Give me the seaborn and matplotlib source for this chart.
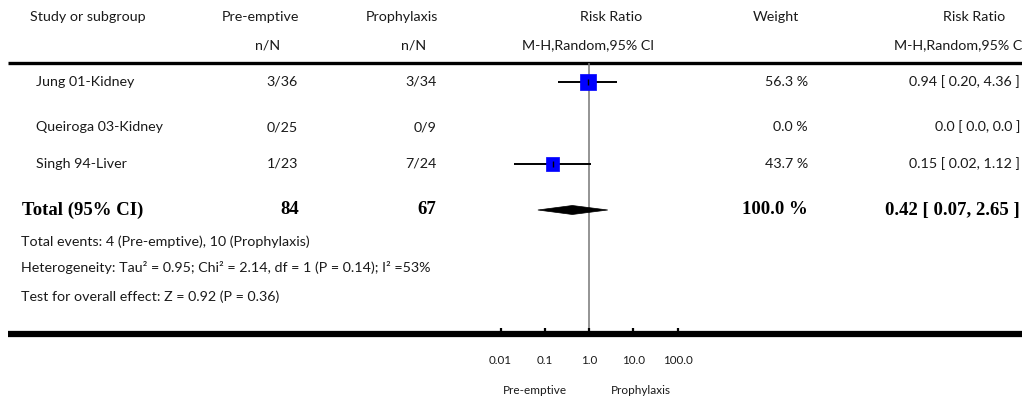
import numpy as np
import pandas as pd
import matplotlib
matplotlib.use("Agg")
import matplotlib.pyplot as plt
import seaborn as sns

# ---- data ----
studies = ["Jung 01-Kidney", "Queiroga 03-Kidney", "Singh 94-Liver"]
pre_events = ["3/36", "0/25", "1/23"]
pro_events = ["3/34", "0/9", "7/24"]
weights = [56.3, 0.0, 43.7]
rr = [0.94, np.nan, 0.15]
rr_lo = [0.20, np.nan, 0.02]
rr_hi = [4.36, np.nan, 1.12]
rr_text = ["0.94 [ 0.20, 4.36 ]", "0.0 [ 0.0, 0.0 ]", "0.15 [ 0.02, 1.12 ]"]

total_pre, total_pro = 84, 67
total_rr, total_lo, total_hi = 0.42, 0.07, 2.65
total_weight = "100.0 %"

footnotes = [
    "Total events: 4 (Pre-emptive), 10 (Prophylaxis)",
    "Heterogeneity: Tau\u00b2 = 0.95; Chi\u00b2 = 2.14, df = 1 (P = 0.14); I\u00b2 =53%",
    "Test for overall effect: Z = 0.92 (P = 0.36)",
]
tick_vals = [0.01, 0.1, 1.0, 10.0, 100.0]
tick_labels = ["0.01", "0.1", "1.0", "10.0", "100.0"]

sns.set_style("white")
plt.rcParams["font.family"] = ["Lato", "DejaVu Sans"]
SANS = 10.3
SERIF = ["Liberation Serif", "DejaVu Serif"]
BOLD = 13.5
TXT = "#1a1a1a"

fig = plt.figure(figsize=(10.22, 4.01), dpi=100)
ax = fig.add_axes([0, 0, 1, 1])
ax.set_xlim(0, 1022)
ax.set_ylim(401, 0)
ax.axis("off")

# forest panel: log scale, 44.25 px per decade, 1.0 at x=589
px_dec = 44.25
left_px = 589 - 3 * px_dec
fx = fig.add_axes([left_px / 1022, 0, 6 * px_dec / 1022, 1])
fx.patch.set_alpha(0)

row_y = [82, 127, 164]
y_total = 210


def t(x, y, s, ha="left", **kw):
    ax.text(x, y, s, ha=ha, va="center", fontsize=kw.pop("fontsize", SANS),
            color=kw.pop("color", TXT), **kw)


def tb(x, y, s, ha="left"):
    ax.text(x, y, s, ha=ha, va="center", family=SERIF, weight="bold",
            fontsize=BOLD, color="black")


# headers
t(30, 17, "Study or subgroup")
t(260, 17, "Pre-emptive", ha="center")
t(268, 45, "n/N", ha="center")
t(402, 17, "Prophylaxis", ha="center")
t(414, 45, "n/N", ha="center")
t(611, 17, "Risk Ratio", ha="center")
t(588, 45, "M-H,Random,95% CI", ha="center")
t(776, 17, "Weight", ha="center")
t(974, 17, "Risk Ratio", ha="center")
t(1026, 45, "M-H,Random,95% CI", ha="right")

ax.hlines(63, 8, 1022, color="black", lw=2.4)
ax.hlines(334, 8, 1022, color="black", lw=4.5)

# study rows
for i, y in enumerate(row_y):
    t(36, y, studies[i])
    t(298, y, pre_events[i], ha="right")
    t(437, y, pro_events[i], ha="right")
    t(808, y, f"{weights[i]:.1f} %", ha="right")
    t(1020, y, rr_text[i], ha="right")

# total row
tb(22, y_total, "Total (95% CI)")
tb(299, y_total, str(total_pre), ha="right")
tb(436, y_total, str(total_pro), ha="right")
tb(808, y_total, total_weight, ha="right")
tb(1020, y_total, f"{total_rr:.2f} [ {total_lo:.2f}, {total_hi:.2f} ]", ha="right")

for y, s in zip([242, 268, 297], footnotes):
    t(21, y, s)

# forest marks
fx.vlines(1.0, 63, 334, color="#777777", lw=1.1)
df = pd.DataFrame({"rr": rr, "lo": rr_lo, "hi": rr_hi, "w": weights, "y": row_y}).dropna()
fx.hlines(df["y"], df["lo"], df["hi"], color="black", lw=1.4, zorder=3)
sns.scatterplot(data=df, x="rr", y="y", size="w", sizes=(95, 125), marker="s",
                color="#0000ff", edgecolor="#0000ff", linewidth=0.5,
                legend=False, ax=fx, zorder=4)
fx.vlines(df["rr"], df["y"] - 3, df["y"] + 3, color="black", lw=1.0, zorder=5)

# pooled diamond
fx.fill([total_lo, total_rr, total_hi, total_rr],
        [y_total, y_total - 4.5, y_total, y_total + 4.5],
        color="black", lw=0.5, zorder=4)

# axis ticks and labels
fx.vlines(tick_vals, 328, 334, color="black", lw=1.6)
for v, lab in zip(tick_vals, tick_labels):
    fx.text(v, 361, lab, ha="center", va="center", fontsize=8.4, color=TXT)
fx.text(0.06, 390, "Pre-emptive", ha="center", va="center", fontsize=8.5, color=TXT)
fx.text(15, 390, "Prophylaxis", ha="center", va="center", fontsize=8.5, color=TXT)

fx.set_xscale("log")
fx.set_xlim(1e-3, 1e3)
fx.set_ylim(401, 0)
fx.axis("off")

fig.savefig("out.png", dpi=100)
